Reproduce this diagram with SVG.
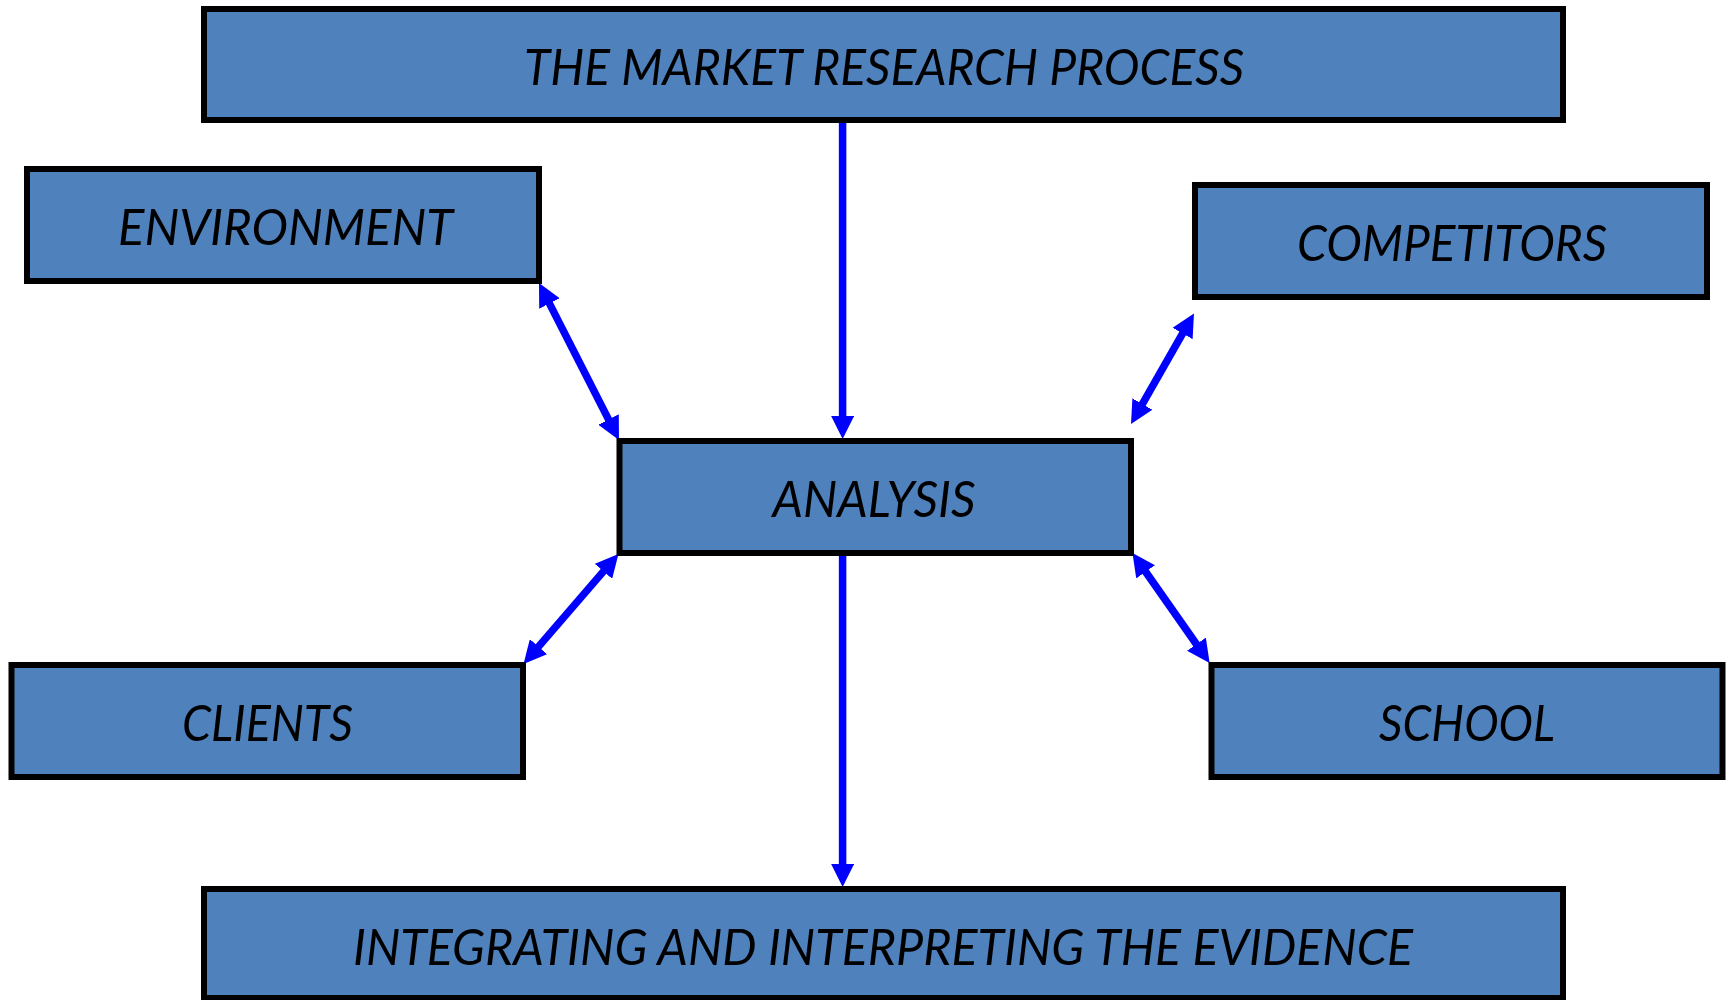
<svg xmlns="http://www.w3.org/2000/svg" width="1727" height="1000" viewBox="0 0 1727 1000">
  <style>
    .box { fill: #4F81BD; stroke: #000000; stroke-width: 6; }
    .label { font-family: "Lato", "Liberation Sans", sans-serif; font-style: italic; font-size: 50px; fill: #000000; text-anchor: middle; }
    .link { fill: none; stroke: #0000FF; stroke-width: 7.5; }
  </style>
  <defs>
    <marker id="head" markerUnits="userSpaceOnUse" markerWidth="23" markerHeight="23" viewBox="0 0 23 23" refX="1" refY="11.5" orient="auto-start-reverse">
      <path d="M0,0 L23,11.5 L0,23 z" fill="#0000FF"/>
    </marker>
  </defs>
  <rect width="1727" height="1000" fill="#FFFFFF"/>

  <!-- connectors -->
  <g id="connectors">
    <path class="link" d="M842.6,123 L842.6,417" marker-end="url(#head)"/>
    <path class="link" d="M842.6,556 L842.6,865" marker-end="url(#head)"/>
    <path class="link" d="M549,302.6 L609,420.4" marker-start="url(#head)" marker-end="url(#head)"/>
    <path class="link" d="M1183.1,332.6 L1141.9,404.9" marker-start="url(#head)" marker-end="url(#head)"/>
    <path class="link" d="M537.9,647.4 L604.1,570.6" marker-start="url(#head)" marker-end="url(#head)"/>
    <path class="link" d="M1145.1,571 L1197,645" marker-start="url(#head)" marker-end="url(#head)"/>
  </g>

  <!-- nodes -->
  <g id="process">
    <rect class="box" x="204" y="9" width="1359" height="111"/>
    <text class="label" x="884" y="84.5" textLength="720" lengthAdjust="spacingAndGlyphs">THE MARKET RESEARCH PROCESS</text>
  </g>
  <g id="environment">
    <rect class="box" x="27" y="169" width="512" height="112"/>
    <text class="label" x="285.5" y="244.5" textLength="335" lengthAdjust="spacingAndGlyphs">ENVIRONMENT</text>
  </g>
  <g id="competitors">
    <rect class="box" x="1195" y="185" width="512" height="112"/>
    <text class="label" x="1452" y="260.5" textLength="310" lengthAdjust="spacingAndGlyphs">COMPETITORS</text>
  </g>
  <g id="analysis">
    <rect class="box" x="619.5" y="441" width="511.5" height="112"/>
    <text class="label" x="874" y="516.5" textLength="203" lengthAdjust="spacingAndGlyphs">ANALYSIS</text>
  </g>
  <g id="clients">
    <rect class="box" x="11.5" y="665" width="511.5" height="112"/>
    <text class="label" x="267.5" y="740.5" textLength="171" lengthAdjust="spacingAndGlyphs">CLIENTS</text>
  </g>
  <g id="school">
    <rect class="box" x="1211.5" y="665" width="511" height="112"/>
    <text class="label" x="1467" y="740.5" textLength="176" lengthAdjust="spacingAndGlyphs">SCHOOL</text>
  </g>
  <g id="evidence">
    <rect class="box" x="204" y="889" width="1359" height="109"/>
    <text class="label" x="883" y="964.5" textLength="1060" lengthAdjust="spacingAndGlyphs">INTEGRATING AND INTERPRETING THE EVIDENCE</text>
  </g>
</svg>
